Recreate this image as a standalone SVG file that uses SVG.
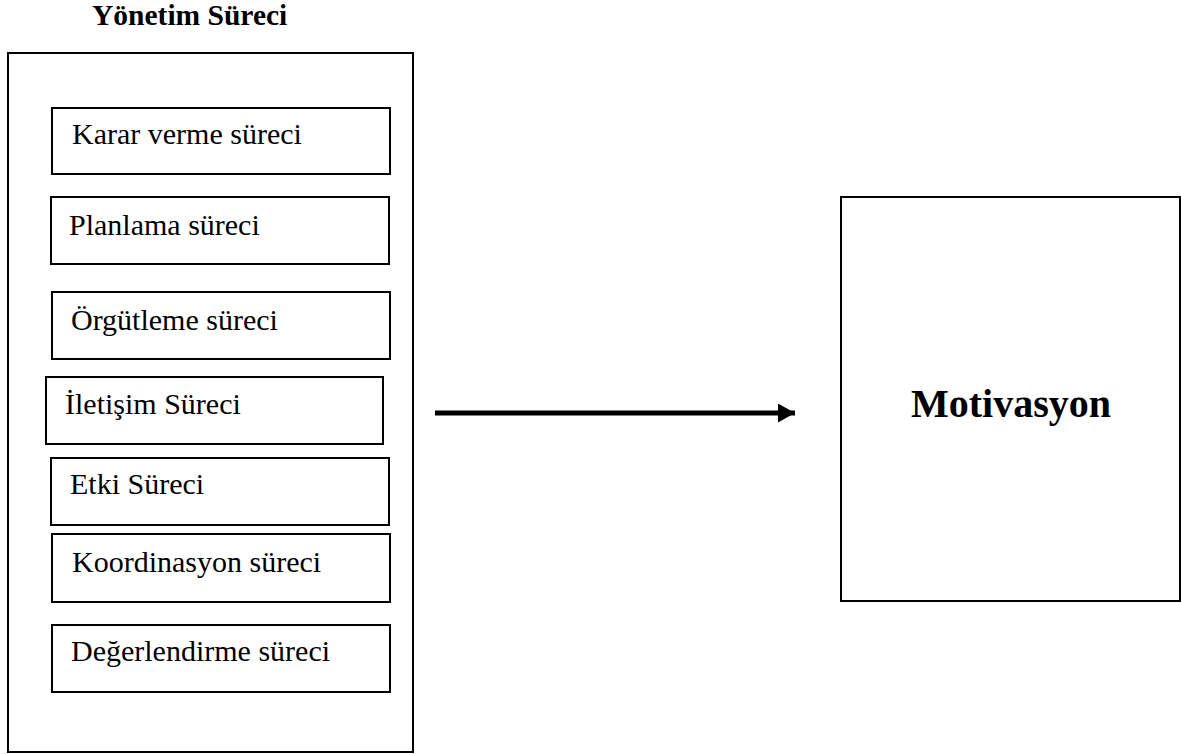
<svg xmlns="http://www.w3.org/2000/svg" width="1181" height="754" viewBox="0 0 1181 754">
  <defs>
    <style>
      .box { fill: #ffffff; stroke: #000000; stroke-width: 2; }
      .lbl { font-family: "Liberation Serif", "Times New Roman", serif; font-size: 30px; fill: #000000; }
      .bold { font-family: "Liberation Serif", "Times New Roman", serif; font-weight: bold; fill: #000000; }
      .conn { stroke: #000000; stroke-width: 5; fill: none; }
    </style>
    <marker id="head" markerUnits="userSpaceOnUse" markerWidth="18" markerHeight="19" refX="17" refY="9.5" orient="auto">
      <path d="M0,0 L17,9.5 L0,19 Z" fill="#000000"/>
    </marker>
  </defs>
  <rect width="1181" height="754" fill="#ffffff"/>

  <!-- Management process container -->
  <g id="yonetim-sureci">
    <text class="bold" x="92" y="25" font-size="29.5">Yönetim Süreci</text>
    <rect class="box" x="8" y="53" width="405" height="699"/>
  </g>

  <g id="karar-verme">
    <rect class="box" x="52" y="108" width="338" height="66"/>
    <text class="lbl" x="72" y="144">Karar verme süreci</text>
  </g>

  <g id="planlama">
    <rect class="box" x="51" y="197" width="338" height="67"/>
    <text class="lbl" x="69" y="235">Planlama süreci</text>
  </g>

  <g id="orgutleme">
    <rect class="box" x="52" y="292" width="338" height="67"/>
    <text class="lbl" x="71" y="330">Örgütleme süreci</text>
  </g>

  <g id="iletisim">
    <rect class="box" x="46" y="377" width="337" height="67"/>
    <text class="lbl" x="65" y="414">İletişim Süreci</text>
  </g>

  <g id="etki">
    <rect class="box" x="51" y="458" width="338" height="67"/>
    <text class="lbl" x="70" y="494">Etki Süreci</text>
  </g>

  <g id="koordinasyon">
    <rect class="box" x="52" y="534" width="338" height="68"/>
    <text class="lbl" x="72" y="572">Koordinasyon süreci</text>
  </g>

  <g id="degerlendirme">
    <rect class="box" x="52" y="625" width="338" height="67"/>
    <text class="lbl" x="71" y="661">Değerlendirme süreci</text>
  </g>

  <!-- Motivation node -->
  <g id="motivasyon">
    <rect class="box" x="841" y="197" width="339" height="404"/>
    <text class="bold" x="1011" y="417" font-size="40" text-anchor="middle">Motivasyon</text>
  </g>

  <!-- Connectors -->
  <g id="connectors">
    <line class="conn" x1="435" y1="413" x2="795" y2="413" marker-end="url(#head)"/>
  </g>
</svg>
